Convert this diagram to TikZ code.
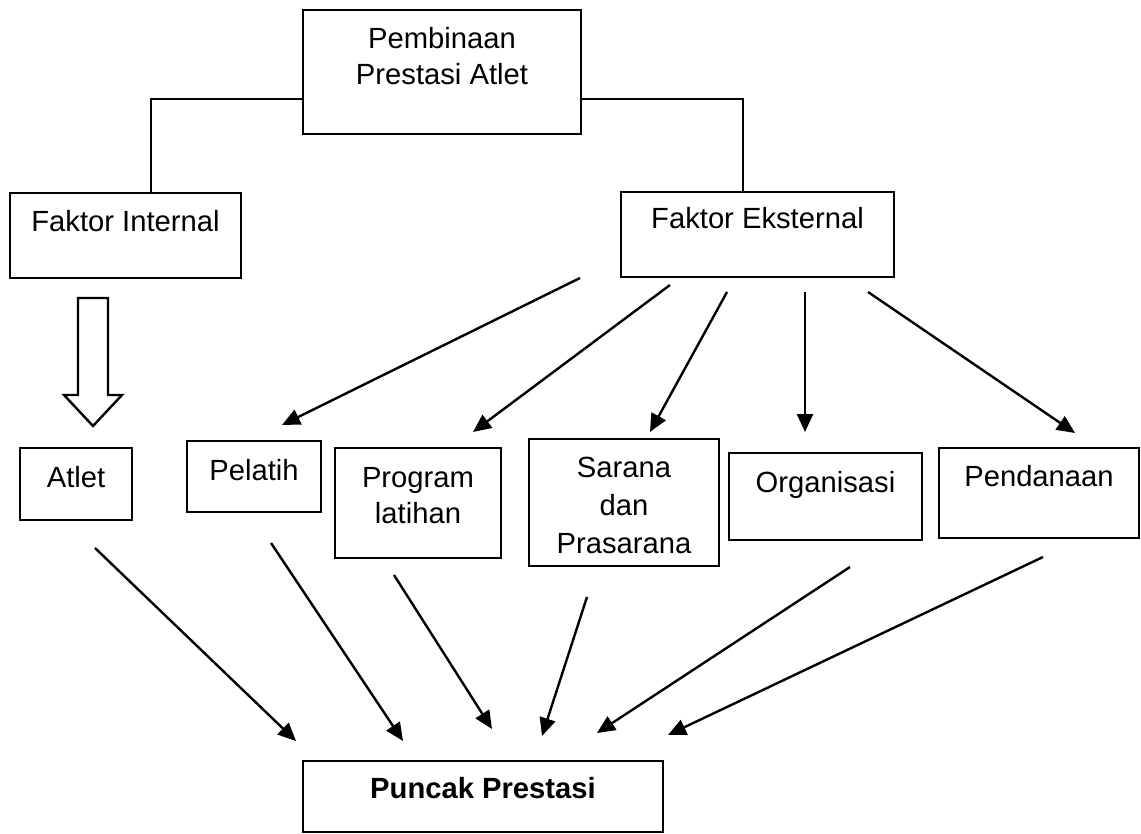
\documentclass[tikz,border=0pt]{standalone}
\usepackage{fontspec}
\setmainfont{Liberation Sans}
\usetikzlibrary{arrows.meta}
\begin{document}
\begin{tikzpicture}[x=0.5pt, y=-0.5pt,
  box/.style={draw=black, line width=1.2pt, inner sep=0pt},
  txt/.style={font=\fontsize{14.6}{18}\selectfont, align=center, inner sep=0pt, anchor=base},
  arr/.style={-{Triangle[length=9pt,width=8pt]}, line width=1.2pt}]
\useasboundingbox (0,0) rectangle (1141,834);
\node[box, minimum width=139pt, minimum height=62pt] (pembinaan) at (442,72) {};
\node[box, minimum width=115.5pt, minimum height=42.5pt] (internal) at (125.5,235.5) {};
\node[box, minimum width=136.5pt, minimum height=42.5pt] (eksternal) at (757.5,234.5) {};
\node[box, minimum width=56pt, minimum height=36pt] (atlet) at (76,484) {};
\node[box, minimum width=67pt, minimum height=35.5pt] (pelatih) at (254,476.5) {};
\node[box, minimum width=83pt, minimum height=55pt] (program) at (418,503) {};
\node[box, minimum width=95pt, minimum height=63.5pt] (sarana) at (624,502.5) {};
\node[box, minimum width=96.5pt, minimum height=43.5pt] (organisasi) at (825.5,496.5) {};
\node[box, minimum width=100pt, minimum height=45pt] (pendanaan) at (1039,493) {};
\node[box, minimum width=180pt, minimum height=35.5pt] (puncak) at (483,796.5) {};
\node[txt] (pembinaanT) at (442,85) {Pembinaan\\Prestasi Atlet};
\node[txt] (internalT) at (125.5,232) {Faktor Internal};
\node[txt] (eksternalT) at (757.5,229) {Faktor Eksternal};
\node[txt] (atletT) at (76,487) {Atlet};
\node[txt] (pelatihT) at (254,480) {Pelatih};
\node[txt] (programT) at (418,523) {Program\\latihan};
\node[txt, font=\fontsize{14.6}{19}\selectfont] (saranaT) at (624,553) {Sarana\\dan\\Prasarana};
\node[txt] (organisasiT) at (825.5,492) {Organisasi};
\node[txt] (pendanaanT) at (1039,486) {Pendanaan};
\node[txt, font=\fontsize{14.6}{18}\selectfont\bfseries] (puncakT) at (483,798) {Puncak Prestasi};
\draw[line width=1.2pt] ([yshift=18pt]pembinaan.south west) -| ([xshift=12.75pt]internal.north);
\draw[line width=1.2pt] ([yshift=18pt]pembinaan.south east) -| ([xshift=-7.25pt]eksternal.north);
\draw[line width=1.2pt, fill=white] (78,298) -- (108,298) -- (108,395) -- (122,395) -- (93,426) -- (64,395) -- (78,395) -- cycle;
\coordinate (e1) at (580,278);
\coordinate (e2) at (670,285);
\coordinate (e3) at (727,292);
\coordinate (e4) at (805,292);
\coordinate (e5) at (868,292);
\coordinate (pelatihIn) at (282,425);
\coordinate (programIn) at (473,432);
\coordinate (saranaIn) at (650,432);
\coordinate (organisasiIn) at (805,432);
\coordinate (pendanaanIn) at (1075,433);
\draw[arr] (e1) -- (pelatihIn);
\draw[arr] (e2) -- (programIn);
\draw[arr] (e3) -- (saranaIn);
\draw[arr] (e4) -- (organisasiIn);
\draw[arr] (e5) -- (pendanaanIn);
\coordinate (atletOut) at (95,548);
\coordinate (pelatihOut) at (271,543);
\coordinate (programOut) at (394,575);
\coordinate (saranaOut) at (587,597);
\coordinate (organisasiOut) at (850,567);
\coordinate (pendanaanOut) at (1043,557);
\coordinate (p1) at (296,741);
\coordinate (p2) at (403,741);
\coordinate (p3) at (492,729);
\coordinate (p4) at (542,736);
\coordinate (p5) at (597,733);
\coordinate (p6) at (668,735);
\draw[arr] (atletOut) -- (p1);
\draw[arr] (pelatihOut) -- (p2);
\draw[arr] (programOut) -- (p3);
\draw[arr] (saranaOut) -- (p4);
\draw[arr] (organisasiOut) -- (p5);
\draw[arr] (pendanaanOut) -- (p6);
\end{tikzpicture}
\end{document}
